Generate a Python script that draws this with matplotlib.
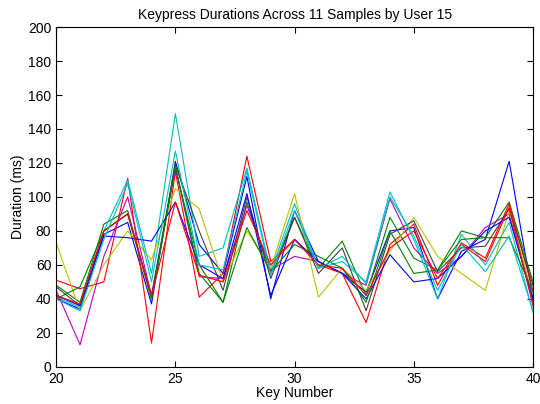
import numpy as np
import matplotlib
matplotlib.use("Agg")
import matplotlib.pyplot as plt

plt.rcParams["font.family"] = ["Liberation Sans", "DejaVu Sans"]

keys = list(range(20, 41))

# one row per sample (11 samples), values in ms
samples = [
    [40, 34, 78, 85, 37, 121, 72, 55, 112, 40, 92, 62, 55, 44, 80, 82, 40, 68, 75, 121, 40],
    [48, 38, 84, 92, 40, 117, 60, 38, 97, 55, 88, 58, 74, 42, 88, 64, 57, 80, 76, 97, 50],
    [51, 46, 50, 111, 14, 115, 41, 55, 124, 62, 75, 60, 55, 26, 72, 84, 48, 73, 64, 96, 45],
    [41, 35, 80, 110, 55, 149, 65, 70, 117, 56, 96, 58, 62, 50, 103, 75, 40, 78, 60, 85, 32],
    [45, 13, 65, 100, 42, 118, 53, 52, 95, 57, 65, 62, 55, 48, 99, 70, 55, 65, 82, 90, 38],
    [73, 33, 60, 80, 63, 105, 93, 50, 80, 58, 102, 41, 58, 45, 68, 88, 65, 55, 45, 92, 42],
    [47, 36, 80, 90, 42, 119, 80, 45, 100, 52, 88, 55, 70, 33, 78, 86, 56, 70, 71, 93, 48],
    [42, 36, 77, 76, 74, 97, 60, 52, 102, 42, 75, 62, 55, 40, 66, 50, 52, 65, 80, 88, 40],
    [40, 47, 80, 90, 40, 118, 55, 38, 82, 56, 72, 65, 58, 38, 80, 55, 57, 75, 76, 76, 44],
    [42, 37, 80, 90, 42, 97, 54, 50, 92, 60, 75, 60, 58, 42, 70, 80, 52, 72, 62, 94, 36],
    [40, 33, 75, 108, 50, 127, 60, 57, 115, 54, 92, 58, 65, 49, 100, 77, 45, 72, 56, 77, 33],
]

# old MATLAB line order: b g r c m y k
colors = ["#0000ff", "#008000", "#ff0000", "#00bfbf", "#bf00bf", "#bfbf00", "#404040"]

fig = plt.figure(figsize=(5.4, 4.04), dpi=100)
ax = fig.add_axes([0.104, 0.092, 0.883, 0.841])

for i, s in enumerate(samples):
    ax.plot(keys, s, color=colors[i % len(colors)], lw=0.8)

ax.set_xlim(20, 40)
ax.set_ylim(0, 200)
ax.set_xticks(range(20, 41, 5))
ax.set_yticks(range(0, 201, 20))
ax.tick_params(direction="in", top=True, right=True, labelsize=10, length=4)
ax.set_xlabel("Key Number", fontsize=10, labelpad=0)
ax.set_ylabel("Duration (ms)", fontsize=10, labelpad=2)
ax.set_title("Keypress Durations Across 11 Samples by User 15", fontsize=10, pad=6)

fig.savefig("out.png", dpi=100)
